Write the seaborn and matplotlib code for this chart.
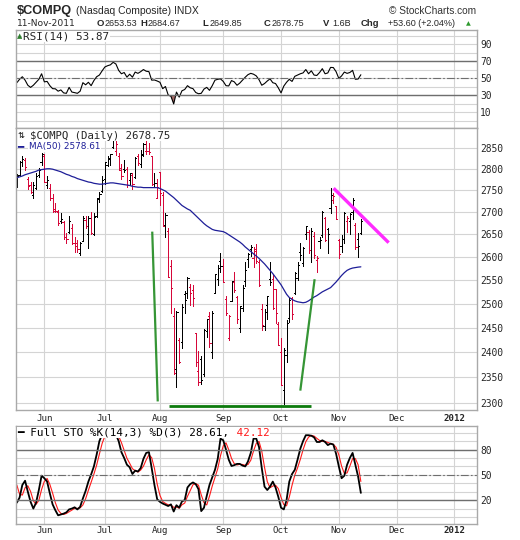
import numpy as np
import matplotlib
matplotlib.use("Agg")
import matplotlib.pyplot as plt
from matplotlib.ticker import NullLocator, NullFormatter
import seaborn as sns

# ---------------- data (trading-day index 0 = 17-May-2011) ----------------
month_pos = [10, 32, 52, 75, 96, 117, 138, 159]
month_labels = ["Jun", "Jul", "Aug", "Sep", "Oct", "Nov", "Dec", "2012"]

opens = [2770, 2786, 2817, 2820, 2775, 2761, 2740, 2755, 2785, 2815,
         2830, 2762, 2755, 2733, 2706, 2700, 2680, 2678, 2645, 2655,
         2663, 2630, 2630, 2608, 2636, 2683, 2650, 2687, 2651, 2690,
         2733, 2748, 2775, 2810, 2823, 2852, 2843, 2830, 2796, 2800,
         2800, 2774, 2785, 2780, 2830, 2812, 2832, 2842, 2841, 2830,
         2765, 2733, 2792, 2738, 2670, 2658, 2580, 2475, 2367, 2425,
         2420, 2521, 2522, 2535, 2529, 2439, 2362, 2387, 2356, 2444,
         2475, 2400, 2522, 2553, 2591, 2581, 2510, 2430, 2506, 2545,
         2515, 2450, 2491, 2548, 2595, 2617, 2598, 2618, 2590, 2488,
         2453, 2498, 2553, 2553, 2530, 2457, 2401, 2325, 2395, 2470,
         2512, 2523, 2554, 2612, 2588, 2650, 2656, 2615, 2647, 2594,
         2635, 2648, 2686, 2662, 2710, 2727, 2713, 2637, 2625, 2640,
         2680, 2680, 2700, 2670, 2640, 2653.53]
highs = [2787, 2818, 2831, 2826, 2780, 2768, 2768, 2790, 2801, 2838,
         2835, 2782, 2765, 2742, 2720, 2704, 2698, 2680, 2654, 2690,
         2672, 2643, 2638, 2633, 2690, 2692, 2692, 2700, 2697, 2731,
         2745, 2784, 2817, 2830, 2836, 2875, 2870, 2837, 2812, 2820,
         2805, 2790, 2790, 2828, 2836, 2844, 2862, 2866, 2861, 2830,
         2790, 2775, 2792, 2745, 2697, 2665, 2593, 2490, 2484, 2430,
         2500, 2527, 2556, 2541, 2540, 2440, 2402, 2392, 2448, 2468,
         2482, 2485, 2563, 2582, 2608, 2596, 2516, 2476, 2549, 2567,
         2517, 2496, 2539, 2589, 2609, 2626, 2623, 2629, 2594, 2500,
         2489, 2517, 2589, 2562, 2531, 2462, 2430, 2408, 2466, 2511,
         2515, 2568, 2590, 2630, 2621, 2668, 2660, 2663, 2655, 2602,
         2645, 2703, 2688, 2663, 2754, 2744, 2713, 2640, 2648, 2700,
         2690, 2698, 2733, 2676, 2652, 2684.67]
lows = [2758, 2783, 2806, 2797, 2752, 2744, 2733, 2752, 2780, 2808,
        2768, 2756, 2727, 2700, 2700, 2670, 2675, 2640, 2630, 2653,
        2629, 2611, 2612, 2605, 2635, 2665, 2620, 2651, 2648, 2689,
        2722, 2745, 2765, 2807, 2810, 2850, 2833, 2798, 2777, 2792,
        2758, 2763, 2752, 2778, 2810, 2803, 2829, 2835, 2835, 2762,
        2760, 2731, 2715, 2669, 2643, 2556, 2480, 2356, 2331, 2378,
        2409, 2481, 2511, 2497, 2496, 2372, 2335, 2336, 2352, 2432,
        2411, 2389, 2522, 2540, 2568, 2546, 2476, 2424, 2505, 2525,
        2460, 2441, 2485, 2538, 2579, 2602, 2578, 2588, 2538, 2446,
        2445, 2469, 2540, 2489, 2460, 2415, 2335, 2298, 2381, 2462,
        2469, 2520, 2550, 2594, 2581, 2640, 2608, 2590, 2598, 2568,
        2620, 2645, 2636, 2609, 2697, 2720, 2684, 2597, 2612, 2630,
        2655, 2650, 2685, 2618, 2600, 2649.85]
closes = [2783.21, 2815.00, 2823.31, 2803.32, 2758.90, 2746.16, 2761.38, 2782.88, 2796.86, 2835.30,
          2769.19, 2773.31, 2732.78, 2702.56, 2701.56, 2675.38, 2684.87, 2643.73, 2639.69, 2678.72,
          2631.46, 2623.70, 2616.48, 2629.66, 2687.26, 2669.19, 2686.75, 2652.89, 2688.28, 2729.31,
          2740.49, 2773.52, 2816.03, 2825.77, 2834.02, 2872.66, 2859.81, 2802.62, 2781.91, 2796.92,
          2762.67, 2789.80, 2765.11, 2826.52, 2814.23, 2834.43, 2858.83, 2842.80, 2839.96, 2764.79,
          2766.25, 2756.38, 2744.61, 2669.24, 2693.07, 2556.39, 2532.41, 2357.69, 2482.52, 2381.05,
          2492.68, 2507.98, 2555.20, 2523.45, 2511.48, 2380.43, 2341.84, 2345.38, 2446.06, 2467.69,
          2419.63, 2479.85, 2562.11, 2576.11, 2579.46, 2546.04, 2480.33, 2473.83, 2548.94, 2529.14,
          2467.99, 2495.09, 2532.15, 2572.55, 2607.07, 2622.31, 2612.83, 2590.24, 2538.65, 2455.67,
          2483.23, 2516.69, 2546.83, 2491.58, 2480.76, 2415.40, 2335.83, 2404.82, 2460.51, 2506.82,
          2479.35, 2566.05, 2583.03, 2604.73, 2620.24, 2667.85, 2614.92, 2657.43, 2604.04, 2598.62,
          2637.46, 2699.44, 2638.42, 2650.67, 2738.63, 2737.15, 2684.41, 2606.96, 2639.99, 2697.97,
          2686.15, 2695.25, 2727.49, 2621.65, 2625.15, 2678.75]
ma50 = [2779, 2781, 2783, 2786, 2788, 2790, 2792, 2794, 2797, 2798,
        2799, 2800, 2800, 2799, 2797, 2795, 2793, 2790, 2787, 2785,
        2782, 2780, 2777, 2775, 2773, 2771, 2769, 2768, 2766, 2765,
        2764, 2764, 2765, 2766, 2767, 2767, 2766, 2765, 2764, 2763,
        2762, 2761, 2759, 2758, 2757, 2757, 2756, 2756, 2756, 2756,
        2756, 2756, 2754, 2751, 2748, 2743, 2738, 2733, 2727, 2721,
        2715, 2711, 2707, 2704, 2698, 2692, 2686, 2680, 2674, 2669,
        2665, 2661, 2659, 2658, 2657, 2656, 2653, 2649, 2645, 2641,
        2637, 2633, 2628, 2622, 2617, 2612, 2607, 2602, 2597, 2591,
        2585, 2578, 2571, 2564, 2556, 2548, 2540, 2530, 2520, 2513,
        2509, 2506, 2504, 2503, 2502, 2503, 2506, 2510, 2514, 2517,
        2521, 2525, 2528, 2531, 2534, 2540, 2546, 2553, 2560, 2566,
        2571, 2574, 2576, 2577, 2578, 2578.61]
rsi14 = [44.5, 48.5, 51.5, 47.5, 41.5, 39, 41.5, 45, 48.5, 55,
         45.5, 46, 41, 37.5, 37.3, 34.5, 36, 32.5, 32, 39,
         33.5, 32.8, 32, 34.5, 44.5, 42, 45, 41, 47, 51.5,
         53.5, 58.5, 63, 64.5, 65.5, 68.5, 66.5, 59, 55, 56.5,
         51, 54.5, 51, 57, 55.5, 57.5, 60, 58, 57.5, 47.5,
         47.7, 46.5, 45, 37.5, 40, 30, 28.5, 19.5, 33.5, 27.5,
         35, 36.5, 41, 38.5, 37.5, 33, 31.5, 32, 37, 39,
         35.5, 41, 47.5, 48.5, 49, 46, 41, 40.7, 47, 45.5,
         41.5, 44, 47.5, 51, 54, 55.5, 54.5, 52.5, 48, 41.5,
         43.5, 46.5, 49, 44.5, 43.5, 38.5, 32.5, 40.5, 45, 48.5,
         46, 52, 53.5, 55, 56, 60, 55, 58.5, 53.5, 53,
         56.5, 61, 55, 56, 62.5, 62.3, 57.5, 49.5, 52.5, 57,
         55.5, 56.5, 59, 48.5, 48.8, 53.87]
sto_k = [17, 23, 38, 43, 30, 18, 10, 17, 32, 49,
         46, 42, 28, 15, 8, 2, 3, 4, 5.5, 9,
         10, 11.5, 9, 12, 22, 31, 42, 50.5, 60, 74,
         90, 98, 100, 100, 100, 100, 98, 90, 77, 70,
         62, 59, 51, 55, 54, 58, 69, 76, 77, 58,
         38, 21, 18, 16, 14.5, 13, 15, 6.5, 14, 11,
         18.5, 20, 35, 39, 41, 39, 33, 7, 11, 25,
         38, 47, 56, 69, 93, 91, 80, 68, 60.5, 61.5,
         63, 63, 61, 60, 66, 76, 93, 93, 83, 58,
         36, 32, 36, 42, 35, 24, 11, 9, 20, 42,
         51, 56, 68, 81, 90, 97, 97, 96.4, 94.5, 89,
         89, 91, 89, 85.3, 87, 86, 75, 60, 46, 49,
         62, 70, 76, 62, 48, 28.61]
sto_d = [38, 27, 26, 34.7, 37, 30.3, 19.3, 15, 19.7, 32.7,
         42.3, 45.7, 38.7, 28.3, 17, 8.3, 4.3, 3, 4.2, 6.2,
         8.2, 10.2, 10.2, 10.8, 14.3, 21.7, 31.7, 41.2, 50.8, 61.5,
         74.7, 87.3, 96, 99.3, 100, 100, 99.3, 96, 88.3, 79,
         69.7, 63.7, 57.3, 55, 53.3, 55.7, 60.3, 67.7, 74, 70.3,
         57.7, 39, 25.7, 18.3, 16.2, 14.5, 14.2, 11.5, 11.8, 10.5,
         14.5, 16.5, 24.5, 31.3, 38.3, 39.7, 37.7, 26.3, 17, 14.3,
         24.7, 36.7, 47, 57.3, 72.7, 84.3, 88, 79.7, 69.5, 63.3,
         61.7, 62.5, 62.3, 61.3, 62.3, 67.3, 78.3, 87.3, 89.7, 78,
         59, 42, 34.7, 36.7, 37.7, 33.7, 23.3, 14.7, 13.3, 23.7,
         37.7, 49.7, 58.3, 68.3, 79.7, 89.3, 94.7, 96.8, 96, 93.3,
         90.8, 89.7, 89.7, 88.4, 87.1, 86.1, 82.7, 73.7, 60.3, 51.7,
         52.3, 60.3, 69.3, 69.3, 62, 42.12]

# hand-drawn annotation lines: (bar index, price)
green_drop_x, green_drop_y = [49.2, 51.2], [2656, 2303]
green_base_x, green_base_y = [55.2, 106.9], [2294.6, 2294.6]
green_rise_x, green_rise_y = [103.0, 108.2], [2324, 2552]
pink_x, pink_y = [115.1, 135.1], [2754.5, 2631.5]

price_ticks = [2300, 2350, 2400, 2450, 2500, 2550, 2600, 2650, 2700, 2750, 2800, 2850]
rsi_ticks = [10, 30, 50, 70, 90]
sto_ticks = [20, 50, 80]

# ---------------- figure ----------------
sns.set_style("white")
MONO = 'DejaVu Sans Mono'
plt.rcParams['font.family'] = ['DejaVu Sans']

W, H = 520, 540
fig = plt.figure(figsize=(W / 100, H / 100), dpi=100)
fig.patch.set_facecolor('white')


def rect(top, bottom, left=16.0, right=477.0):
    return [left / W, 1 - bottom / H, (right - left) / W, (bottom - top) / H]


ax_rsi = fig.add_axes(rect(30, 128))
ax_px = fig.add_axes(rect(128, 410))
ax_sto = fig.add_axes(rect(425.7, 524))

idx = np.arange(len(closes))
o, h, l, c = map(np.asarray, (opens, highs, lows, closes))
GRID = '#d4d4d4'
FRAME = '#a9a9a9'
DARK = '#6e6e6e'
RED = '#d6083a'
TICKFS = 6.9

for ax in (ax_rsi, ax_px, ax_sto):
    ax.set_facecolor('white')
    for s in ax.spines.values():
        s.set_color(FRAME)
        s.set_linewidth(1)
    ax.yaxis.tick_right()
    ax.tick_params(axis='both', which='both', length=0)
    ax.set_axisbelow(True)

# ---- RSI panel ----
sns.lineplot(x=idx, y=rsi14, ax=ax_rsi, color='black', linewidth=0.8, legend=False)
r = np.asarray(rsi14)
ax_rsi.fill_between(idx, r, 30, where=r < 30, interpolate=True, color='#a56a66', linewidth=0)
ax_rsi.axhline(70, color=DARK, lw=1)
ax_rsi.axhline(30, color=DARK, lw=1)
ax_rsi.axhline(50, color=DARK, lw=0.8, dashes=(7, 2, 1.5, 2))
ax_rsi.set_ylim(-8.8, 106.5)
ax_rsi.set_yticks(rsi_ticks, [str(t) for t in rsi_ticks], fontfamily=MONO, fontsize=TICKFS)
ax_rsi.set_yticks([0, 20, 40, 60, 80, 100], minor=True)
ax_rsi.set_xticks(month_pos)
ax_rsi.tick_params(labelbottom=False, pad=2.2)
ax_rsi.grid(True, which='both', color=GRID, lw=0.8)

# ---- price panel ----
ax_px.set_yscale('log')
up = np.r_[True, np.diff(c) >= 0]
cols = np.where(up, 'black', RED)
TK = 0.42
BW = 0.7
ax_px.vlines(idx, l, h, colors=cols, linewidth=BW, antialiased=False)
ax_px.hlines(o, idx - TK, idx, colors=cols, linewidth=BW, antialiased=False)
ax_px.hlines(c, idx, idx + TK, colors=cols, linewidth=BW, antialiased=False)
sns.lineplot(x=idx, y=ma50, ax=ax_px, color='#1e1e98', linewidth=0.9, legend=False)
ax_px.plot(green_drop_x, green_drop_y, color='#1f8a1f', lw=1.6, alpha=0.9, solid_capstyle='butt')
ax_px.plot(green_base_x, green_base_y, color='#0c7a0c', lw=2.0, solid_capstyle='butt')
ax_px.plot(green_rise_x, green_rise_y, color='#1f8a1f', lw=1.6, alpha=0.9, solid_capstyle='butt')
ax_px.plot(pink_x, pink_y, color='#ff2bff', lw=2.4, solid_capstyle='butt')
ax_px.set_ylim(2286.5, 2897.5)
ax_px.set_yticks(price_ticks, [str(t) for t in price_ticks], fontfamily=MONO, fontsize=TICKFS)
ax_px.yaxis.set_minor_locator(NullLocator())
ax_px.yaxis.set_minor_formatter(NullFormatter())
ax_px.set_xticks(month_pos, month_labels, fontfamily=MONO, fontsize=6.6)
ax_px.tick_params(axis='x', pad=2.6)
ax_px.tick_params(axis='y', pad=2.2)
ax_px.grid(True, which='major', color=GRID, lw=0.8)

# ---- stochastic panel ----
sns.lineplot(x=idx, y=sto_d, ax=ax_sto, color='#ff1a1a', linewidth=0.8, legend=False)
sns.lineplot(x=idx, y=sto_k, ax=ax_sto, color='black', linewidth=1.3, legend=False)
ax_sto.axhline(80, color=DARK, lw=1)
ax_sto.axhline(20, color=DARK, lw=1)
ax_sto.axhline(50, color=DARK, lw=0.8, dashes=(7, 2, 1.5, 2))
ax_sto.set_ylim(-8.3, 108.3)
ax_sto.set_yticks(sto_ticks, [str(t) for t in sto_ticks], fontfamily=MONO, fontsize=TICKFS)
ax_sto.set_yticks([0, 10, 30, 40, 60, 70, 90, 100], minor=True)
ax_sto.set_xticks(month_pos, month_labels, fontfamily=MONO, fontsize=6.6)
ax_sto.tick_params(axis='x', pad=1.6)
ax_sto.tick_params(axis='y', pad=2.2)
ax_sto.grid(True, which='both', color=GRID, lw=0.8)

for ax in (ax_rsi, ax_px, ax_sto):
    ax.set_xlim(-0.3, 167.2)
    ax.set_xlabel('')
    ax.set_ylabel('')
for ax in (ax_px, ax_sto):
    ax.get_xticklabels()[-1].set_fontweight('bold')


# ---------------- texts ----------------
def ptext(x, y, s, **kw):
    kw.setdefault('va', 'center')
    kw.setdefault('ha', 'left')
    return fig.text(x / W, 1 - y / H, s, **kw)


WB = dict(facecolor='white', edgecolor='none', pad=0.6)

ptext(16.5, 11, "$COMPQ", family='Liberation Sans', weight='bold', size=9.2)
ptext(76.5, 11.3, "(Nasdaq Composite) INDX", family='Liberation Sans', size=7.5)
ptext(476, 10.5, "\u00a9 StockCharts.com", family='Liberation Sans', size=7.3, ha='right', color='#333333')

ptext(16.5, 24, "11-Nov-2011", family='DejaVu Sans', size=6.6)
hdr = [(96.5, "O", True), (104.5, "2653.53", False),
       (140.0, "H", True), (147.5, "2684.67", False),
       (202.0, "L", True), (209.5, "2649.85", False),
       (264.0, "C", True), (272.0, "2678.75", False),
       (323.0, "V", True), (332.5, "1.6B", False),
       (361.0, "Chg", True), (388.0, "+53.60 (+2.04%)", False)]
for x, s, b in hdr:
    ptext(x, 24, s, family='Liberation Sans', size=6.8 if b else 6.5,
          weight='bold' if b else 'normal')
ptext(466, 24, "\u25b2", family='DejaVu Sans', size=4.5, color='#2e9a2e')

# panel legends
ptext(17.3, 36.5, "\u25b2", family='DejaVu Sans', size=5, color='#2f7f2f')
ptext(23.3, 36.5, "RSI(14) 53.87", family=MONO, size=7.9, bbox=WB)

ptext(18.0, 135.8, "\u21c5", family='DejaVu Sans', size=6.0, color='black')
ptext(29.5, 135.8, "$COMPQ (Daily) 2678.75", family=MONO, size=7.7,
      bbox=dict(facecolor='white', edgecolor='none', pad=0.2))
ptext(17.5, 146.5, "\u2501", family=MONO, size=7.5, color='#1e1e98', weight='bold')
ptext(29.0, 146.5, "MA(50) 2578.61", family='DejaVu Sans', size=6.4, color='#1e1e98', bbox=WB)

sto_prefix = "\u2501 Full STO %K(14,3) %D(3) 28.61, "
ptext(17.5, 432.5, sto_prefix + "     ", family=MONO, size=7.9, color='black', bbox=WB)
ptext(17.5, 432.5, " " * len(sto_prefix) + "42.12", family=MONO, size=7.9, color='#ff1a1a')

fig.savefig("out.png", dpi=100, facecolor='white')
